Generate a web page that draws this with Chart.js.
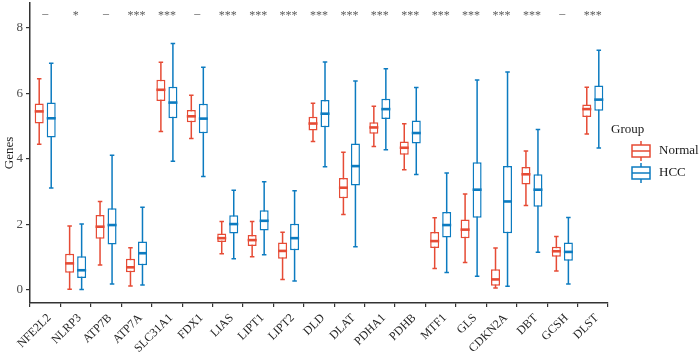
<!DOCTYPE html>
<html>
<head>
<meta charset="utf-8">
<script src="https://cdn.jsdelivr.net/npm/chart.js@4.4.1/dist/chart.umd.min.js"></script>
<style>
  html, body { margin: 0; padding: 0; background: #fff; }
  #wrap { width: 699px; height: 354px; }
</style>
</head>
<body>
<div id="wrap"><canvas id="c" width="699" height="354"></canvas></div>
<script>
// Box plots of gene expression, Normal vs HCC, with significance marks on top.
const GENES = ['NFE2L2', 'NLRP3', 'ATP7B', 'ATP7A', 'SLC31A1', 'FDX1', 'LIAS', 'LIPT1', 'LIPT2', 'DLD',
  'DLAT', 'PDHA1', 'PDHB', 'MTF1', 'GLS', 'CDKN2A', 'DBT', 'GCSH', 'DLST'];
const SIG = ['–', '*', '–', '***', '***', '–', '***', '***', '***', '***',
  '***', '***', '***', '***', '***', '***', '***', '–', '***'];

const NORMAL_MAX = [6.45, 1.95, 2.70, 1.29, 6.95, 5.94, 2.09, 2.09, 1.76, 5.70, 4.20, 5.61, 5.07, 2.20, 2.93, 1.28, 4.24, 1.63, 6.19];
const NORMAL_Q3 = [5.69, 1.10, 2.29, 0.95, 6.42, 5.49, 1.72, 1.68, 1.45, 5.29, 3.42, 5.12, 4.53, 1.77, 2.15, 0.63, 3.75, 1.32, 5.66];
const NORMAL_MED = [5.45, 0.81, 1.93, 0.69, 6.11, 5.30, 1.58, 1.52, 1.19, 5.08, 3.12, 4.96, 4.34, 1.49, 1.84, 0.32, 3.53, 1.18, 5.52];
const NORMAL_Q1 = [5.08, 0.52, 1.56, 0.54, 5.77, 5.12, 1.46, 1.34, 0.95, 4.87, 2.80, 4.77, 4.13, 1.28, 1.58, 0.13, 3.22, 1.01, 5.28];
const NORMAL_MIN = [4.45, 0.02, 0.76, 0.12, 4.84, 4.62, 1.10, 1.01, 0.32, 4.53, 2.30, 4.38, 3.67, 0.65, 0.84, 0.06, 2.58, 0.58, 4.76];

const HCC_MAX = [6.92, 2.01, 4.11, 2.52, 7.52, 6.80, 3.04, 3.30, 3.03, 6.96, 6.38, 6.75, 6.18, 3.57, 6.41, 6.65, 4.90, 2.21, 7.32];
const HCC_Q3 = [5.72, 1.03, 2.49, 1.48, 6.20, 5.68, 2.28, 2.43, 2.02, 5.80, 4.47, 5.84, 5.17, 2.38, 3.90, 3.78, 3.53, 1.45, 6.24];
const HCC_MED = [5.24, 0.60, 1.98, 1.12, 5.72, 5.23, 2.01, 2.11, 1.58, 5.38, 3.78, 5.52, 4.79, 1.98, 3.06, 2.70, 3.06, 1.16, 5.81];
const HCC_Q1 = [4.65, 0.36, 1.39, 0.75, 5.24, 4.78, 1.72, 1.81, 1.21, 4.97, 3.19, 5.22, 4.47, 1.60, 2.20, 1.73, 2.54, 0.89, 5.47];
const HCC_MIN = [3.11, 0.01, 0.18, 0.15, 3.93, 3.46, 0.95, 1.07, 0.27, 3.76, 1.32, 4.28, 3.52, 0.53, 0.42, 0.11, 1.15, 0.18, 4.33];

const Y_TICKS = [0, 2, 4, 6, 8];
const Y_MIN = -0.4, Y_MAX = 8.76;
const SIG_Y = 8.43;

const RED = '#E64B35';
const BLUE = '#0C7BC0';
const FONT = "'Liberation Serif', 'Times New Roman', serif";

function boxSet(label, color, q1, q3, min, med, max) {
  return {
    label,
    data: q1.map((v, i) => [v, q3[i]]),
    stats: { min, med, max },
    borderColor: color,
    backgroundColor: '#ffffff',
    borderWidth: 1.5,
    borderSkipped: false,
    categoryPercentage: 0.79,
    barPercentage: 0.75,
  };
}

// whiskers, caps and medians, placed from the bar elements + y scale
const boxPlugin = {
  id: 'boxWhiskers',
  beforeDatasetsDraw(chart) {
    const { ctx } = chart;
    const y = chart.scales.y;
    chart.data.datasets.forEach((ds, d) => {
      const meta = chart.getDatasetMeta(d);
      ctx.save();
      ctx.strokeStyle = ds.borderColor;
      ctx.lineWidth = 1.5;
      meta.data.forEach((el, i) => {
        const x = el.x, half = el.width * 0.25;
        const yMax = y.getPixelForValue(ds.stats.max[i]);
        const yMin = y.getPixelForValue(ds.stats.min[i]);
        ctx.beginPath();
        ctx.moveTo(x, yMax); ctx.lineTo(x, yMin);
        ctx.moveTo(x - half, yMax); ctx.lineTo(x + half, yMax);
        ctx.moveTo(x - half, yMin); ctx.lineTo(x + half, yMin);
        ctx.stroke();
      });
      ctx.restore();
    });
  },
  afterDatasetsDraw(chart) {
    const { ctx } = chart;
    const y = chart.scales.y;
    chart.data.datasets.forEach((ds, d) => {
      const meta = chart.getDatasetMeta(d);
      ctx.save();
      ctx.strokeStyle = ds.borderColor;
      ctx.lineWidth = 2.6;
      meta.data.forEach((el, i) => {
        const ym = y.getPixelForValue(ds.stats.med[i]);
        ctx.beginPath();
        ctx.moveTo(el.x - el.width / 2, ym);
        ctx.lineTo(el.x + el.width / 2, ym);
        ctx.stroke();
      });
      ctx.restore();
    });
  },
  afterDraw(chart) {
    const { ctx, chartArea } = chart;
    const x = chart.scales.x, y = chart.scales.y;
    ctx.save();
    // significance marks
    ctx.fillStyle = '#595959';
    ctx.font = `12px ${FONT}`;
    ctx.textAlign = 'center';
    ctx.textBaseline = 'middle';
    SIG.forEach((s, i) => {
      const yy = y.getPixelForValue(SIG_Y) + (s === '*' || s === '***' ? 2 : 0);
      ctx.fillText(s, x.getPixelForValue(i), yy);
    });
    // legend
    const mid = (chartArea.top + chartArea.bottom) / 2;
    const lx = chartArea.right + 3;
    ctx.fillStyle = '#1a1a1a';
    ctx.textAlign = 'left';
    ctx.font = `13px ${FONT}`;
    ctx.fillText('Group', lx, mid - 23);
    chart.data.datasets.forEach((ds, d) => {
      const cy = mid - 2 + d * 22;
      const kx = chartArea.right + 24, kw = 18, kh = 12;
      ctx.strokeStyle = ds.borderColor;
      ctx.lineWidth = 1.5;
      ctx.beginPath();
      ctx.moveTo(kx + kw / 2, cy - kh / 2 - 4); ctx.lineTo(kx + kw / 2, cy - kh / 2);
      ctx.moveTo(kx + kw / 2, cy + kh / 2); ctx.lineTo(kx + kw / 2, cy + kh / 2 + 4);
      ctx.stroke();
      ctx.strokeRect(kx, cy - kh / 2, kw, kh);
      ctx.beginPath();
      ctx.moveTo(kx, cy); ctx.lineTo(kx + kw, cy);
      ctx.stroke();
      ctx.fillStyle = '#1a1a1a';
      ctx.fillText(ds.label, kx + kw + 9, cy);
    });
    ctx.restore();
  }
};

new Chart(document.getElementById('c'), {
  type: 'bar',
  data: {
    labels: GENES,
    datasets: [
      boxSet('Normal', RED, NORMAL_Q1, NORMAL_Q3, NORMAL_MIN, NORMAL_MED, NORMAL_MAX),
      boxSet('HCC', BLUE, HCC_Q1, HCC_Q3, HCC_MIN, HCC_MED, HCC_MAX),
    ],
  },
  options: {
    responsive: false,
    animation: false,
    devicePixelRatio: 1,
    layout: { padding: { top: 3, right: 91, left: 0, bottom: 0 } },
    scales: {
      x: {
        offset: true,
        grid: { display: true, drawOnChartArea: false, drawTicks: true, tickLength: 4, color: '#333', lineWidth: 1.2 },
        border: { display: true, color: '#333', width: 1.5 },
        ticks: { autoSkip: false, minRotation: 45, maxRotation: 45, padding: 4, labelOffset: 4, color: '#262626', font: { family: FONT, size: 12 } },
        afterFit: s => { s.height = 51; s.paddingLeft = 0; s.paddingRight = 0; },
      },
      y: {
        min: Y_MIN,
        max: Y_MAX,
        afterBuildTicks: s => { s.ticks = Y_TICKS.map(v => ({ value: v })); },
        grid: { display: true, drawOnChartArea: false, drawTicks: true, tickLength: 4, color: '#333', lineWidth: 1.2 },
        border: { display: true, color: '#333', width: 1.5 },
        ticks: { padding: 3, color: '#4d4d4d', font: { family: FONT, size: 13 } },
        title: { display: true, text: 'Genes', color: '#1a1a1a', font: { family: FONT, size: 13 }, padding: { top: 2, bottom: 2 } },
        afterFit: s => { s.width = 30; s.paddingTop = 0; s.paddingBottom = 0; },
      },
    },
    plugins: { legend: { display: false }, tooltip: { enabled: false } },
  },
  plugins: [boxPlugin],
});
</script>
</body>
</html>
